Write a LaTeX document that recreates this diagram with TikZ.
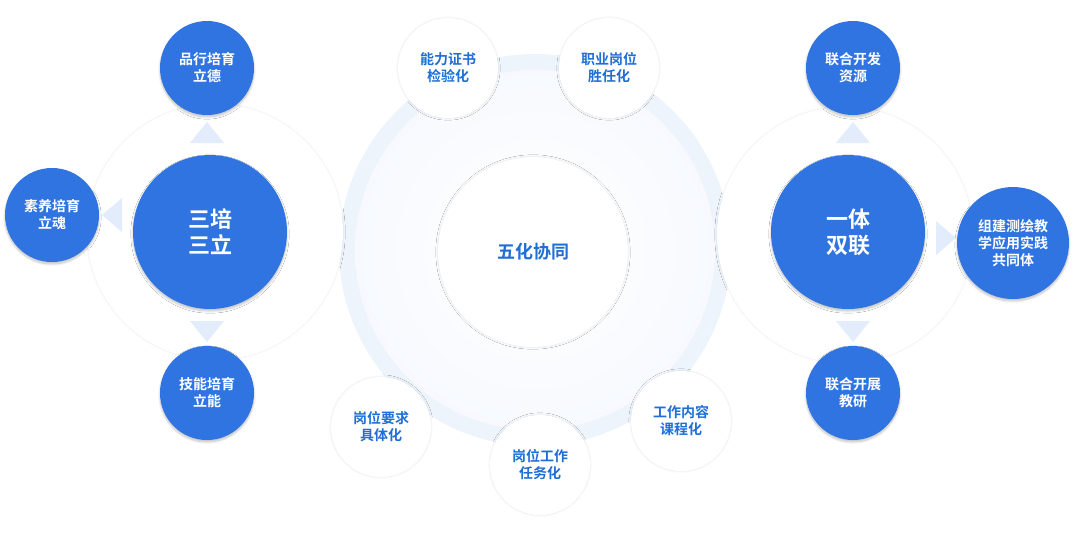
\documentclass[tikz,border=0pt]{standalone}
\usepackage{fontspec}
\setmainfont{Noto Sans CJK SC Bold}
\usetikzlibrary{positioning,calc,shadows.blur}
\definecolor{mainblue}{HTML}{2F74E0}
\definecolor{txtblue}{HTML}{1F6FD6}
\definecolor{halo}{HTML}{E3ECFA}
\tikzset{
  bigball/.style={circle,fill=mainblue,text=white,minimum size=154pt,font=\fontsize{22}{26}\selectfont,align=center,blur shadow={shadow blur steps=8,shadow xshift=0pt,shadow yshift=-2pt,shadow opacity=25}},
  ball/.style={circle,fill=mainblue,text=white,minimum size=94pt,font=\fontsize{14}{17}\selectfont,align=center,blur shadow={shadow blur steps=8,shadow xshift=0pt,shadow yshift=-2pt,shadow opacity=25}},
  whiteball/.style={circle,fill=white,text=txtblue,minimum size=100pt,font=\fontsize{14}{17}\selectfont,align=center,blur shadow={shadow blur steps=8,shadow xshift=0pt,shadow yshift=0pt,shadow opacity=12}},
  plate/.style={circle,fill=white,minimum size=256pt,blur shadow={shadow blur steps=10,shadow xshift=0pt,shadow yshift=0pt,shadow opacity=10}},
  tip/.style={fill=halo}
}
\begin{document}
\begin{tikzpicture}[x=1pt,y=-1pt]
  \useasboundingbox (0,0) rectangle (1080,536);
  % middle ring
  \fill[halo!60] (535,250) circle (196);
  \shade[inner color=white,outer color=halo!30] (535,250) circle (180);
  \node[whiteball,minimum size=190pt,font=\fontsize{18}{22}\selectfont] (wuhua) at (533,252) {五化协同};
  \node[whiteball] (nengli) at (448,68) {能力证书\\检验化};
  \node[whiteball] (zhiye) at (609,68) {职业岗位\\胜任化};
  \node[whiteball] (yaoqiu) at (381,427) {岗位要求\\具体化};
  \node[whiteball] (renwu) at (540,465) {岗位工作\\任务化};
  \node[whiteball] (kecheng) at (681,421) {工作内容\\课程化};
  % left cluster
  \node[plate] (lplate) at (215,232) {};
  \fill[tip] (207,122) -- (190,143) -- (224,143) -- cycle;
  \fill[tip] (102,215) -- (122,198) -- (122,232) -- cycle;
  \fill[tip] (207,342) -- (190,321) -- (224,321) -- cycle;
  \node[bigball] (sanpei) at (210,232) {三培\\三立};
  \node[ball] (pinxing) at (207,68) {品行培育\\立德};
  \node[ball] (suyang) at (52,215) {素养培育\\立魂};
  \node[ball] (jineng) at (207,393) {技能培育\\立能};
  % right cluster
  \node[plate] (rplate) at (845,235) {};
  \fill[tip] (853,122) -- (836,143) -- (870,143) -- cycle;
  \fill[tip] (956,238) -- (936,221) -- (936,255) -- cycle;
  \fill[tip] (853,342) -- (836,321) -- (870,321) -- cycle;
  \node[bigball] (yiti) at (848,232) {一体\\双联};
  \node[ball] (kaifa) at (853,68) {联合开发\\资源};
  \node[ball,minimum size=112pt] (gongtong) at (1013,243) {组建测绘教\\学应用实践\\共同体};
  \node[ball] (jiaoyan) at (853,393) {联合开展\\教研};
\end{tikzpicture}
\end{document}
